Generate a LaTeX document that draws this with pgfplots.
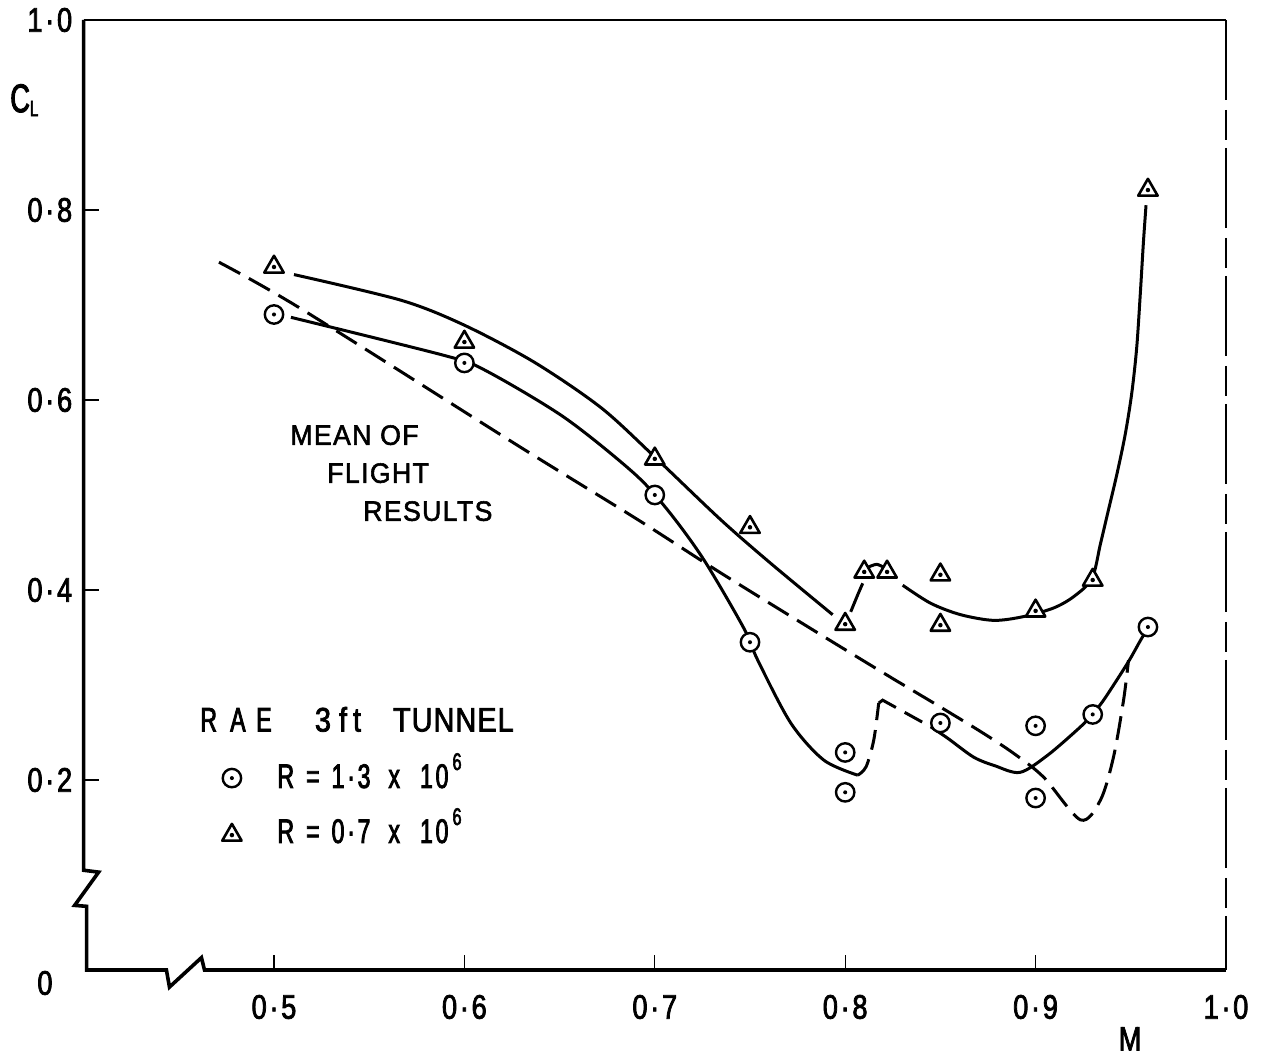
\documentclass[border=0pt]{standalone}
\usepackage{pgfplots}
\pgfplotsset{compat=1.18}
\usepackage{fontspec}
\setmainfont{Liberation Sans}[FakeBold=2]
\newfontfamily\tickfont{Liberation Sans}[FakeStretch=0.8, LetterSpace=8, FakeBold=2.2]
\newfontfamily\legfont{Liberation Sans}[FakeStretch=0.68, LetterSpace=8, FakeBold=2.4]
\newfontfamily\tunfont{Liberation Sans}[FakeStretch=0.85, LetterSpace=3, FakeBold=2.2]
\newfontfamily\meanfont{Liberation Sans}[FakeStretch=0.95, LetterSpace=5, FakeBold=2]
\newcommand\ticklab{\tickfont\fontsize{17}{17}\selectfont}

\pgfdeclareplotmark{odot}{%
  \pgfsetfillcolor{white}%
  \pgfpathcircle{\pgfpointorigin}{\pgfplotmarksize}%
  \pgfusepathqfillstroke
  \pgfsetfillcolor{black}%
  \pgfpathcircle{\pgfpointorigin}{0.22\pgfplotmarksize}%
  \pgfusepathqfill
}
\pgfdeclareplotmark{tdot}{%
  \pgfsetfillcolor{white}%
  \pgfsetroundjoin
  \pgfpathmoveto{\pgfqpoint{0pt}{\pgfplotmarksize}}%
  \pgfpathlineto{\pgfqpointpolar{-30}{\pgfplotmarksize}}%
  \pgfpathlineto{\pgfqpointpolar{-150}{\pgfplotmarksize}}%
  \pgfpathclose
  \pgfusepathqfillstroke
  \pgfsetfillcolor{black}%
  \pgfpathcircle{\pgfpointorigin}{0.2\pgfplotmarksize}%
  \pgfusepathqfill
}

\begin{document}
\begin{tikzpicture}
\begin{axis}[
  width=571.2pt, height=475pt, scale only axis,
  xmin=0.4, xmax=1.0, ymin=0, ymax=1.0,
  clip=false,
  axis line style={draw=none},
  xtick={0.5,0.6,0.7,0.8,0.9,1.0},
  xticklabels={0·5,0·6,0·7,0·8,0·9,1·0},
  ytick={0.2,0.4,0.6,0.8,1.0},
  yticklabels={0·2,0·4,0·6,0·8,1·0},
  tick pos=left,
  tick align=inside,
  major tick length=7.5pt,
  every tick/.style={black, line width=0.6pt},
  xticklabel style={font=\ticklab, anchor=center, yshift=-18.5pt, inner sep=0pt},
  yticklabel style={font=\ticklab, anchor=east, xshift=-5.5pt, inner sep=0pt},
]
\coordinate (SW) at (rel axis cs:0,0);

% axis frame with break symbols
\draw[line width=1.8pt, line join=miter] (axis cs:0.4,1) -- (axis cs:0.4,0.105) -- (axis cs:0.4079,0.103) -- (axis cs:0.3953,0.068) -- (axis cs:0.4016,0.067) -- (axis cs:0.4016,0) -- (axis cs:0.4435,0) -- (axis cs:0.4451,-0.018) -- (axis cs:0.4619,0.013) -- (axis cs:0.4635,0) -- (axis cs:1,0);
\draw[line width=1pt] (axis cs:0.4,1) -- (axis cs:1,1);
\draw[line width=0.7pt, dash pattern=on 40pt off 5pt on 15pt off 4pt] (axis cs:1,1) -- (axis cs:1,0);

% mean of flight results (dashed)
\addplot[black, line width=1.5pt, dash pattern=on 12pt off 5pt, smooth, tension=0.5] coordinates {
(0.4711,0.745) (0.5142,0.696) (0.6281,0.552) (0.6911,0.474) (0.7346,0.418)
(0.7871,0.353) (0.8223,0.310) (0.8465,0.281) (0.8711,0.251) (0.8885,0.228)
(0.9042,0.203) (0.9236,0.158) (0.9341,0.179) (0.9409,0.224) (0.9462,0.284) (0.9488,0.326)};

% R = 0.7e6 fitted curve (solid)
\addplot[black, line width=1.5pt, smooth] coordinates {
(0.5105,0.732) (0.5667,0.705) (0.5997,0.679) (0.6365,0.640) (0.6717,0.592)
(0.7000,0.540) (0.7346,0.474) (0.7609,0.428) (0.7934,0.374)};
\addplot[black, line width=1.5pt, smooth] coordinates {
(0.8029,0.377) (0.8066,0.395) (0.8092,0.407)};
\addplot[black, line width=1.5pt, smooth] coordinates {
(0.8120,0.424) (0.8165,0.427) (0.8200,0.424)};
\addplot[black, line width=1.5pt, smooth] coordinates {
(0.8302,0.405) (0.8449,0.386) (0.8606,0.374) (0.8780,0.368) (0.8937,0.372)
(0.9094,0.381) (0.9200,0.393) (0.9296,0.412) (0.9340,0.448) (0.9380,0.482)
(0.9426,0.521) (0.9470,0.563) (0.9505,0.607) (0.9531,0.655) (0.9550,0.712)
(0.9566,0.765) (0.9580,0.805)};

% R = 1.3e6 fitted curve
\addplot[black, line width=1.5pt, smooth] coordinates {
(0.5089,0.687) (0.5892,0.647) (0.6102,0.632) (0.6522,0.582) (0.6890,0.523)
(0.7068,0.484) (0.7257,0.432) (0.7467,0.360) (0.7541,0.326) (0.7714,0.260)
(0.7887,0.221) (0.8066,0.205)};
\addplot[black, line width=1.5pt, dash pattern=on 10pt off 5pt, smooth] coordinates {
(0.8066,0.205) (0.8110,0.214) (0.8150,0.242) (0.8176,0.281)};
\addplot[black, line width=1.5pt, dash pattern=on 10pt off 5pt] coordinates {
(0.8176,0.281) (0.8197,0.284) (0.8449,0.256)};
\addplot[black, line width=1.5pt, smooth] coordinates {
(0.8449,0.256) (0.8538,0.244) (0.8675,0.224) (0.8786,0.215) (0.8918,0.208)
(0.9063,0.226) (0.9236,0.256) (0.9296,0.269) (0.9357,0.284) (0.9483,0.323)
(0.9551,0.347) (0.9593,0.361)};

% data points
\addplot[only marks, mark=odot, mark size=4.6pt, line width=1.2pt] coordinates {
(0.5,0.690) (0.6,0.639) (0.7,0.500) (0.75,0.345) (0.8,0.229) (0.8,0.187)
(0.85,0.260) (0.9,0.257) (0.9,0.181) (0.93,0.269) (0.959,0.361)};
\addplot[only marks, mark=tdot, mark size=5.6pt, line width=1.3pt] coordinates {
(0.5,0.740) (0.6,0.661) (0.7,0.538) (0.75,0.466) (0.8,0.364) (0.81,0.419)
(0.822,0.419) (0.85,0.416) (0.85,0.363) (0.9,0.378) (0.93,0.4105) (0.959,0.821)};

% legend symbols
\addplot[only marks, mark=odot, mark size=4.6pt, line width=1.2pt] coordinates {(0.4779,0.202)};
\addplot[only marks, mark=tdot, mark size=5.6pt, line width=1.3pt] coordinates {(0.4779,0.142)};

% texts
\node[anchor=west, inner sep=0pt, font=\meanfont\fontsize{14}{14}\selectfont] at (axis cs:0.5084,0.563) {MEAN OF};
\node[anchor=west, inner sep=0pt, font=\meanfont\fontsize{14}{14}\selectfont] at (axis cs:0.5278,0.523) {FLIGHT};
\node[anchor=west, inner sep=0pt, font=\meanfont\fontsize{14}{14}\selectfont] at (axis cs:0.5467,0.483) {RESULTS};

\node[anchor=base west, inner sep=0pt, font=\legfont\fontsize{17}{17}\selectfont] at (axis cs:0.4611,0.251) {R\hspace{6.6pt}A\hspace{5.3pt}E};
\node[anchor=base west, inner sep=0pt, font=\tunfont\fontsize{17}{17}\selectfont] at (axis cs:0.5213,0.251) {3\hspace{4pt}f\hspace{3pt}t};
\node[anchor=base west, inner sep=0pt, font=\tunfont\fontsize{17}{17}\selectfont] at (axis cs:0.5623,0.251) {TUNNEL};
\node[anchor=base west, inner sep=0pt, font=\legfont\fontsize{17}{17}\selectfont] at (axis cs:0.5016,0.1916) {R\hspace{6pt}=\hspace{6pt}1·3\hspace{9pt}x\hspace{10pt}10\hspace{2pt}\raisebox{9pt}{\fontsize{12}{12}\selectfont 6}};
\node[anchor=base west, inner sep=0pt, font=\legfont\fontsize{17}{17}\selectfont] at (axis cs:0.5016,0.1337) {R\hspace{6pt}=\hspace{6pt}0·7\hspace{9pt}x\hspace{10pt}10\hspace{2pt}\raisebox{9pt}{\fontsize{12}{12}\selectfont 6}};

\node[anchor=base west, inner sep=0pt, font=\legfont] at (axis cs:0.3613,0.903) {\fontsize{20}{20}\selectfont C\raisebox{-2pt}{\fontsize{11}{11}\selectfont L}};
\node[inner sep=0pt, font=\ticklab] at (axis cs:0.9496,-0.0725) {M};
\node[inner sep=0pt, font=\ticklab] at (axis cs:0.3797,-0.0137) {0};
\end{axis}
\pgfresetboundingbox
\path ([shift={(-41.8pt,-44pt)}]SW) rectangle ([shift={(591.2pt,485pt)}]SW);
\end{tikzpicture}
\end{document}
